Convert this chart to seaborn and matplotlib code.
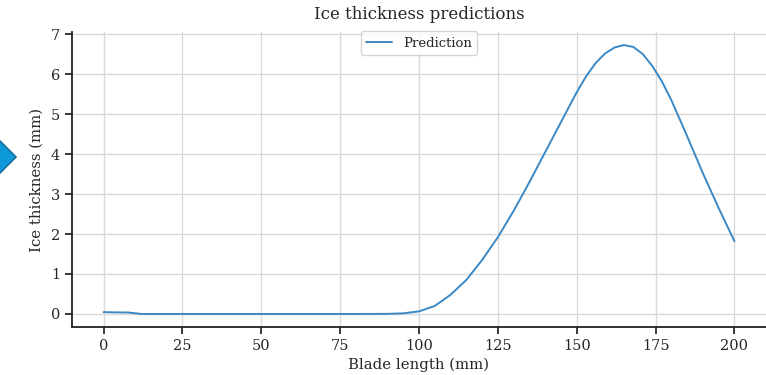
"""Ice thickness prediction along the blade."""

import matplotlib

matplotlib.use("Agg")

import matplotlib.pyplot as plt
import pandas as pd
import seaborn as sns
from matplotlib.patches import Polygon

# values
blade_length = [0, 4, 8, 12, 20, 40, 60, 80, 90, 95, 100, 105, 110, 115, 120,
                125, 130, 135, 140, 145, 150, 153, 156, 159, 162, 165, 168,
                171, 174, 177, 180, 185, 190, 195, 200]
ice_thickness = [0.045, 0.04, 0.035, 0.0, 0.0, 0.0, 0.0, 0.0, 0.002, 0.015,
                 0.065, 0.2, 0.48, 0.85, 1.35, 1.92, 2.58, 3.3, 4.05, 4.8,
                 5.55, 5.95, 6.28, 6.52, 6.67, 6.73, 6.68, 6.5, 6.2, 5.82,
                 5.35, 4.45, 3.52, 2.65, 1.82]

df = pd.DataFrame({"Blade length (mm)": blade_length,
                   "Ice thickness (mm)": ice_thickness})

sns.set_theme(style="ticks")
plt.rcParams["font.family"] = ["DejaVu Serif"]

fig = plt.figure(figsize=(7.66, 3.75), dpi=100)
ax = fig.add_axes([72 / 766, 47.6 / 375, 694 / 766, 295.8 / 375])

sns.lineplot(data=df, x="Blade length (mm)", y="Ice thickness (mm)",
             ax=ax, color="#3b88c4", linewidth=1.4, label="Prediction")

ax.set_xticks([0, 25, 50, 75, 100, 125, 150, 175, 200])
ax.set_yticks(range(8))
ax.grid(True, color="#d9d9d9", linewidth=1)
ax.set_title("Ice thickness predictions", fontsize=12, pad=9)
ax.set_xlabel("Blade length (mm)", fontsize=10.7, labelpad=3)
ax.set_ylabel("Ice thickness (mm)", fontsize=10.7, labelpad=5)
ax.tick_params(labelsize=10.5, length=5, color="#222222")
for side in ["left", "bottom"]:
    ax.spines[side].set_color("#222222")
    ax.spines[side].set_linewidth(1.3)
sns.despine(ax=ax)
ax.legend(loc="upper center", fontsize=9.5, frameon=True,
          bbox_to_anchor=(0.5, 1.01), borderaxespad=0.2)

# the blue diamond marker cut off at the left edge
pts = [(-16, 157), (0, 141), (16, 157), (0, 173)]
diamond = Polygon([(x / 766, 1 - y / 375) for x, y in pts], closed=True,
                  transform=fig.transFigure, facecolor="#0e9ad8",
                  edgecolor="#1b6d9e", linewidth=1.2, clip_on=False)
fig.patches.append(diamond)

fig.savefig("out.png", dpi=100)
